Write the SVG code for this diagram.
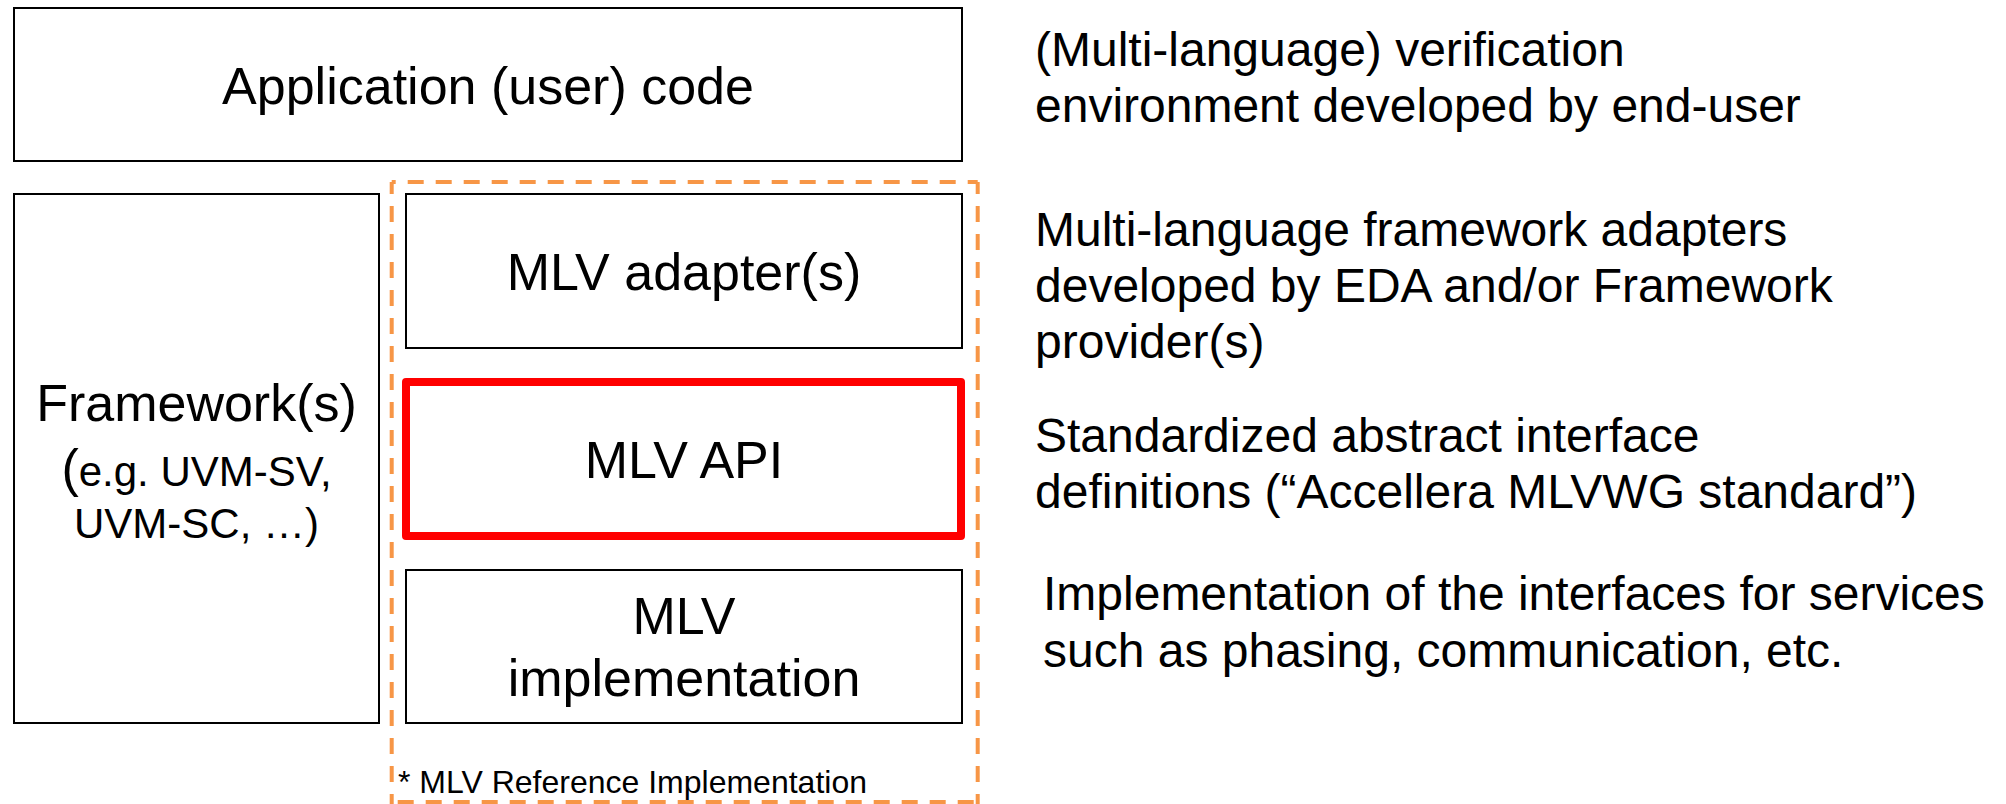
<svg xmlns="http://www.w3.org/2000/svg" width="2006" height="804" viewBox="0 0 2006 804">
  <style>
    .box { fill: #ffffff; stroke: #000000; stroke-width: 2; }
    .api { fill: #ffffff; stroke: #ff0000; stroke-width: 8; stroke-linejoin: round; }
    .ref { fill: none; stroke: #f79646; stroke-width: 4; stroke-dasharray: 16 12; }
    text { font-family: "Liberation Sans", Arial, sans-serif; fill: #000000; }
    .lbl { font-size: 52px; text-anchor: middle; }
    .sub { font-size: 42px; }
    .note { font-size: 48px; }
    .foot { font-size: 32px; }
  </style>

  <!-- reference implementation boundary (dashed) -->
  <g id="ref-impl">
    <line class="ref" x1="391.7" y1="182" x2="977.7" y2="182" stroke-dashoffset="-16"/>
    <line class="ref" x1="391.7" y1="182" x2="391.7" y2="804" stroke-dashoffset="4"/>
    <line class="ref" x1="977.7" y1="182" x2="977.7" y2="804" stroke-dashoffset="4"/>
    <line class="ref" x1="391.7" y1="802" x2="977.7" y2="802" stroke-dashoffset="-6"/>
    <text class="foot" x="398" y="793">* MLV Reference Implementation</text>
  </g>

  <g id="app-code">
    <rect class="box" x="14" y="8" width="948" height="153"/>
    <text class="lbl" x="488" y="104" font-size="53">Application (user) code</text>
  </g>

  <g id="frameworks">
    <rect class="box" x="14" y="194" width="365" height="529"/>
    <text class="lbl" x="196.5" y="421">Framework(s)</text>
    <text x="196.5" y="486" text-anchor="middle"><tspan font-size="52">(</tspan><tspan class="sub">e.g. UVM-SV,</tspan></text>
    <text class="sub" x="196.5" y="538" text-anchor="middle">UVM-SC, …)</text>
  </g>

  <g id="mlv-adapter">
    <rect class="box" x="406" y="194" width="556" height="154"/>
    <text class="lbl" x="684" y="290">MLV adapter(s)</text>
  </g>

  <g id="mlv-api">
    <rect class="api" x="406" y="382" width="555" height="154"/>
    <text class="lbl" x="684" y="478">MLV API</text>
  </g>

  <g id="mlv-impl">
    <rect class="box" x="406" y="570" width="556" height="153"/>
    <text class="lbl" x="684" y="634">MLV</text>
    <text class="lbl" x="684" y="696">implementation</text>
  </g>

  <!-- descriptions of each layer -->
  <g id="notes">
    <text class="note" x="1035" y="66">(Multi-language) verification</text>
    <text class="note" x="1035" y="122">environment developed by end-user</text>

    <text class="note" x="1035" y="246">Multi-language framework adapters</text>
    <text class="note" x="1035" y="302">developed by EDA and/or Framework</text>
    <text class="note" x="1035" y="358">provider(s)</text>

    <text class="note" x="1035" y="452">Standardized abstract interface</text>
    <text class="note" x="1035" y="508">definitions (“Accellera MLVWG standard”)</text>

    <text class="note" x="1043" y="610">Implementation of the interfaces for services</text>
    <text class="note" x="1043" y="667">such as phasing, communication, etc.</text>
  </g>

  <g id="connectors"/>
</svg>
